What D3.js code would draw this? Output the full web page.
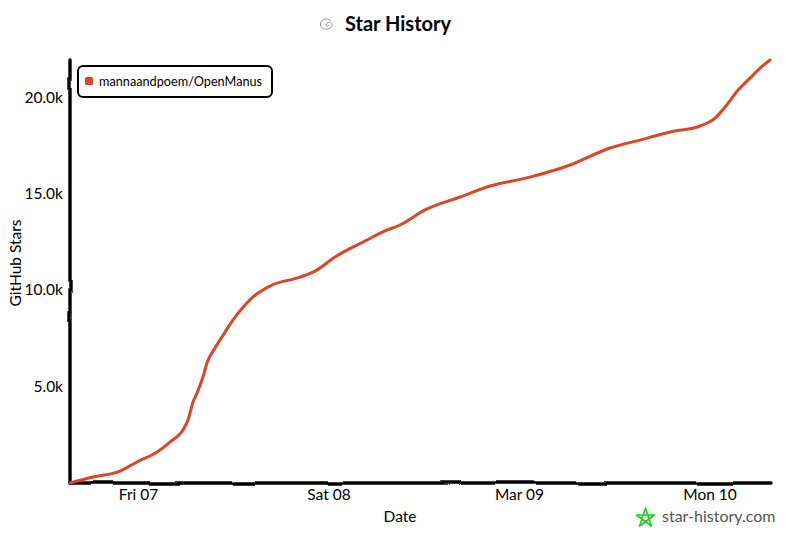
<!DOCTYPE html>
<html><head><meta charset="utf-8">
<script src="https://cdnjs.cloudflare.com/ajax/libs/d3/7.8.5/d3.min.js"></script>
<style>
html,body{margin:0;padding:0;background:#fff}
svg{display:block}
text{font-family:"Lato","Noto Sans",sans-serif;fill:#000}
</style></head><body>
<svg id="c" width="800" height="533"></svg>
<script>
const titleText = "Star History";
const seriesName = "mannaandpoem/OpenManus";
const xTitle = "Date", yTitle = "GitHub Stars", brand = "star-history.com";
const times = ["2025-03-06T15:26","2025-03-06T18:20","2025-03-06T21:44","2025-03-06T23:52","2025-03-07T02:24","2025-03-07T04:02","2025-03-07T05:40","2025-03-07T06:18","2025-03-07T06:56","2025-03-07T07:26","2025-03-07T08:11","2025-03-07T08:41","2025-03-07T09:42","2025-03-07T10:58","2025-03-07T11:58","2025-03-07T13:29","2025-03-07T14:29","2025-03-07T16:38","2025-03-07T20:25","2025-03-07T22:18","2025-03-08T00:49","2025-03-08T04:36","2025-03-08T07:07","2025-03-08T09:00","2025-03-08T12:10","2025-03-08T16:34","2025-03-08T20:21","2025-03-09T01:23","2025-03-09T06:26","2025-03-09T11:28","2025-03-09T15:14","2025-03-09T19:02","2025-03-09T22:48","2025-03-10T00:42","2025-03-10T01:57","2025-03-10T03:36","2025-03-10T05:06","2025-03-10T06:22","2025-03-10T07:37"];
const stars = [0,310,620,1090,1610,2120,2750,3260,4200,4660,5490,6220,6990,7820,8450,9220,9640,10210,10670,10980,11710,12540,13060,13370,14150,14820,15390,15850,16480,17360,17770,18190,18500,18910,19480,20360,20980,21500,21920];
const xTickDates = ["2025-03-07T00:00","2025-03-08T00:00","2025-03-09T00:00","2025-03-10T00:00"];
const xTickLabels = ["Fri 07","Sat 08","Mar 09","Mon 10"];
const yTicks = [5000,10000,15000,20000];
const yTickLabels = ["5.0k","10.0k","15.0k","20.0k"];
const lineColor = "#dd4528";

const parse = d3.timeParse("%Y-%m-%dT%H:%M");
const dates = times.map(parse);
const x = d3.scaleTime().domain([dates[0], dates[dates.length-1]]).range([70,770]);
const y = d3.scaleLinear().domain([0,21920]).range([483,60]);
const svg = d3.select("#c");

const defs = svg.append("defs");
function rough(id,freq,scale,seed){
  const f = defs.append("filter").attr("id",id).attr("filterUnits","userSpaceOnUse")
    .attr("x",0).attr("y",0).attr("width",800).attr("height",533);
  f.append("feTurbulence").attr("type","fractalNoise").attr("baseFrequency",freq).attr("numOctaves",1).attr("seed",seed).attr("result","n");
  f.append("feDisplacementMap").attr("in","SourceGraphic").attr("in2","n").attr("scale",scale).attr("xChannelSelector","R").attr("yChannelSelector","G");
}
rough("r1",0.03,3,3);
rough("r2",0.15,1.2,8);

// axes
const gx = svg.append("g").attr("transform","translate(0,483)")
  .call(d3.axisBottom(x).tickValues(xTickDates.map(parse)).tickSize(0).tickPadding(3).tickFormat((d,i)=>xTickLabels[i]));
const gy = svg.append("g").attr("transform","translate(70,0)")
  .call(d3.axisLeft(y).tickValues(yTicks).tickSize(0).tickPadding(7).tickFormat((d,i)=>yTickLabels[i]));
[gx,gy].forEach(g=>{
  g.select(".domain").remove();
  g.attr("font-family",null);
  g.selectAll("text").attr("font-size",15.5);
});
gx.selectAll("text").attr("dy","0.9em");
const axes = svg.append("g").attr("filter","url(#r1)").attr("stroke","#000").attr("stroke-width",3.4).attr("fill","none").attr("stroke-linecap","round");
axes.append("line").attr("x1",x.range()[0]).attr("x2",x.range()[1]).attr("y1",y(0)).attr("y2",y(0));
axes.append("line").attr("x1",x.range()[0]).attr("x2",x.range()[0]).attr("y1",y(0)).attr("y2",y(21920));

// series
const line = d3.line().x((d,i)=>x(dates[i])).y(d=>y(d)).curve(d3.curveMonotoneX);
svg.append("path").datum(stars).attr("d",line).attr("fill","none").attr("stroke",lineColor)
  .attr("stroke-width",3).attr("stroke-linecap","round").attr("filter","url(#r2)");

// legend
svg.append("rect").attr("x",78).attr("y",66).attr("width",194).attr("height",31).attr("rx",5)
  .attr("fill","#fff").attr("stroke","#000").attr("stroke-width",2).attr("filter","url(#r2)");
svg.append("rect").attr("x",85).attr("y",77).attr("width",8).attr("height",8).attr("rx",1.5).attr("fill",lineColor);
svg.append("text").attr("x",99).attr("y",85.5).attr("font-size",12.7).text(seriesName);

// title
svg.append("text").attr("x",345).attr("y",31).attr("font-size",20).attr("font-weight",700).text(titleText);
svg.append("path").attr("d","M331 21 C327 17 320 19 320.5 25 C321 30 329 31 332 26 C333 22 327 21 326 25 C326 26 328 27 329 25")
  .attr("fill","none").attr("stroke","#999").attr("stroke-width",1);

// axis titles
svg.append("text").attr("x",400).attr("y",522).attr("text-anchor","middle").attr("font-size",15.5).text(xTitle);
svg.append("text").attr("transform","translate(21,263) rotate(-90)").attr("text-anchor","middle").attr("font-size",15.5).text(yTitle);

// brand
svg.append("path").attr("d","M645.5 508 L651.4 526 L636.5 515 L654.5 515 L639.6 526 Z")
  .attr("fill","none").attr("stroke","#22cc22").attr("stroke-width",1.6).attr("stroke-linejoin","round");
svg.append("text").attr("x",662).attr("y",522).attr("font-size",16).style("fill","#555").text(brand);
</script>
</body></html>
